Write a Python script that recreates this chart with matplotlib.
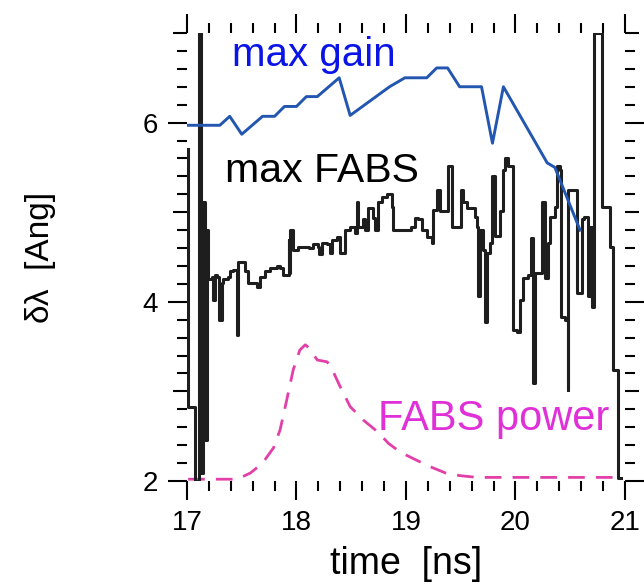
import matplotlib
matplotlib.use("Agg")
import matplotlib.pyplot as plt
from matplotlib.ticker import MultipleLocator, FuncFormatter

plt.rcParams['font.family'] = ['Liberation Sans', 'DejaVu Sans']

# max gain (blue)
gain_t = [17.0, 17.30, 17.39, 17.50, 17.69, 17.80, 17.89, 18.0, 18.09, 18.19, 18.39, 18.49,
          18.85, 18.99, 19.19, 19.28, 19.38, 19.49, 19.69, 19.79, 19.89, 20.29, 20.36, 20.59]
gain_v = [5.97, 5.97, 6.07, 5.87, 6.07, 6.07, 6.18, 6.18, 6.29, 6.29, 6.50, 6.08,
          6.40, 6.50, 6.50, 6.61, 6.61, 6.40, 6.40, 5.77, 6.40, 5.55, 5.50, 4.80]

# max FABS (black)
fabs_t = [17.01, 17.01, 17.07, 17.07, 17.11, 17.11, 17.13, 17.13, 17.15, 17.15,
          17.16, 17.16, 17.18, 17.19, 17.23, 17.24, 17.26, 17.27, 17.29, 17.32,
          17.33, 17.37, 17.39, 17.42, 17.46, 17.47, 17.50, 17.53, 17.56, 17.59,
          17.64, 17.67, 17.71, 17.76, 17.82, 17.85, 17.88, 17.92, 17.93, 17.93,
          17.94, 17.97, 18.01, 18.11, 18.15, 18.20, 18.21, 18.23, 18.28, 18.31,
          18.32, 18.37, 18.40, 18.42, 18.44, 18.49, 18.53, 18.55, 18.56, 18.61,
          18.63, 18.65, 18.70, 18.72, 18.74, 18.78, 18.83, 18.87, 18.88, 18.95,
          19.05, 19.08, 19.11, 19.15, 19.19, 19.24, 19.25, 19.28, 19.31, 19.36,
          19.38, 19.42, 19.42, 19.47, 19.50, 19.52, 19.56, 19.60, 19.63, 19.65,
          19.66, 19.68, 19.70, 19.72, 19.74, 19.77, 19.79, 19.81, 19.86, 19.89,
          19.90, 19.93, 19.97, 19.98, 20.01, 20.04, 20.07, 20.11, 20.14, 20.16,
          20.18, 20.22, 20.24, 20.27, 20.30, 20.32, 20.36, 20.38, 20.41, 20.42,
          20.45, 20.48, 20.48, 20.54, 20.56, 20.60, 20.61, 20.63, 20.66, 20.68,
          20.70, 20.72, 20.79, 20.79, 20.86, 20.86, 20.89, 20.89, 20.94, 20.94,
          20.96]
fabs_v = [5.70, 2.83, 2.83, 2.00, 2.00, 7.00, 7.00, 2.09, 2.09, 5.11,
          5.11, 2.46, 4.80, 4.25, 4.28, 4.02, 4.30, 4.28, 3.80, 4.21,
          4.25, 4.28, 4.34, 4.36, 3.63, 4.44, 4.44, 4.34, 4.21, 4.21,
          4.16, 4.28, 4.34, 4.38, 4.40, 4.38, 4.30, 4.30, 4.69, 4.32,
          4.80, 4.58, 4.61, 4.60, 4.64, 4.61, 4.53, 4.66, 4.64, 4.55,
          4.69, 4.72, 4.55, 4.55, 4.80, 4.83, 4.77, 5.11, 4.84, 4.92,
          4.80, 5.05, 4.94, 4.80, 5.11, 5.17, 5.20, 5.06, 4.80, 4.80,
          4.83, 4.94, 4.92, 4.80, 4.72, 4.66, 5.03, 5.25, 5.01, 5.01,
          5.51, 5.47, 4.84, 4.84, 5.25, 5.11, 5.05, 5.05, 4.95, 4.83,
          4.06, 4.80, 4.58, 3.77, 4.55, 4.66, 5.40, 4.73, 5.01, 5.47,
          5.61, 5.51, 5.51, 3.69, 3.66, 4.02, 4.27, 4.30, 4.71, 3.09,
          4.32, 4.32, 5.11, 4.27, 4.66, 4.95, 5.06, 5.51, 5.47, 3.83,
          3.80, 3.02, 5.25, 5.25, 4.10, 4.10, 4.92, 4.95, 4.06, 4.84,
          3.94, 7.00, 7.00, 5.06, 5.06, 4.61, 4.61, 3.24, 3.24, 2.03,
          2.03]

# FABS power (pink dashed)
power_t = [17.01, 17.46, 17.58, 17.69, 17.79, 17.85, 17.91, 17.97, 18.03, 18.08, 18.11,
           18.19, 18.28, 18.32, 18.40, 18.49, 18.61, 18.74, 18.84, 18.95, 19.10, 19.22,
           19.36, 19.49, 19.65, 20.89]
power_v = [2.02, 2.02, 2.09, 2.20, 2.37, 2.57, 2.90, 3.24, 3.46, 3.52, 3.49,
           3.35, 3.33, 3.26, 3.05, 2.83, 2.68, 2.55, 2.42, 2.32, 2.23, 2.16,
           2.09, 2.06, 2.04, 2.04]

fig = plt.figure(figsize=(6.44, 5.87), dpi=100)
ax = fig.add_axes([0.2904, 0.1806, 0.680, 0.7632])

ax.plot(power_t, power_v, color='#e23fa8', lw=2.0, dashes=(6, 4))
ax.plot(fabs_t, fabs_v, color='#1e1e1e', lw=2.2, drawstyle='steps-post')
ax.plot(gain_t, gain_v, color='#2256b0', lw=2.1)

ax.set_xlim(17, 21)
ax.set_ylim(2, 7)

for s in ax.spines.values():
    s.set_visible(False)

ax.xaxis.set_major_locator(MultipleLocator(1))
ax.xaxis.set_minor_locator(MultipleLocator(0.2))
ax.yaxis.set_major_locator(MultipleLocator(1))
ax.yaxis.set_minor_locator(MultipleLocator(0.2))
ax.yaxis.set_major_formatter(FuncFormatter(lambda v, p: '%d' % v if int(round(v)) % 2 == 0 else ''))

ax.tick_params(which='both', direction='out', top=True, right=True, width=1.5, color='black')
ax.tick_params(which='major', length=14, labelsize=20, pad=7)
ax.tick_params(which='minor', length=7)

# medium ticks on odd values of y
for t, v in zip(ax.yaxis.get_major_ticks(), ax.yaxis.get_majorticklocs()):
    if int(round(v)) % 2 == 1:
        t.tick1line.set_markersize(10)
        t.tick2line.set_markersize(10)

ax.set_xlabel('time  [ns]', fontsize=27)
ax.set_ylabel('δλ  [Ang]', fontsize=24)
ax.xaxis.set_label_coords(0.5, -0.145)
ax.yaxis.set_label_coords(-0.30, 0.5)

ax.text(17.41, 6.63, 'max gain', color='#0a14e6', fontsize=29)
ax.text(17.35, 5.34, 'max FABS', color='black', fontsize=29.5)
ax.text(18.74, 2.57, 'FABS power', color='#e030d8', fontsize=30)

fig.savefig('out.png', dpi=100)
